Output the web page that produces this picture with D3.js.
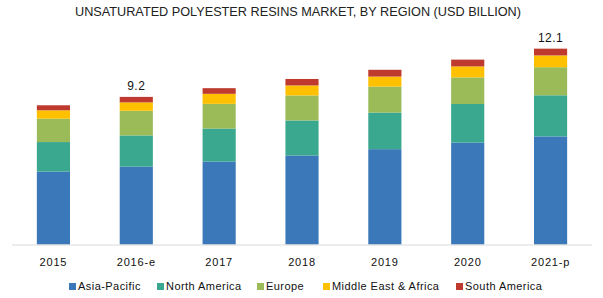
<!DOCTYPE html>
<html>
<head>
<meta charset="UTF-8">
<script src="https://d3js.org/d3.v7.min.js"></script>
<style>
    body { margin: 0; background: #fff; font-family: "Liberation Sans", Arial, sans-serif; }
    .title { font-size: 12.7px; fill: #222; }
    .tick text { font-size: 11px; fill: #111; letter-spacing: 0.8px; }
    .total { font-size: 12px; fill: #111; letter-spacing: 0.5px; }
    .legend text { font-size: 11px; fill: #111; letter-spacing: 0.45px; }
</style>
</head>
<body>
<svg id="chart"></svg>
<script>
const years = ["2015", "2016-e", "2017", "2018", "2019", "2020", "2021-p"];
const regions = ["Asia-Pacific", "North America", "Europe", "Middle East & Africa", "South America"];
const colors = ["#3b78b9", "#3aa78f", "#9bbb59", "#ffc000", "#be3a2f"];

const asiaPacific   = [4.52, 4.83, 5.14, 5.52, 5.91, 6.32, 6.70];
const northAmerica  = [1.83, 1.93, 2.05, 2.17, 2.27, 2.39, 2.55];
const europe        = [1.45, 1.53, 1.53, 1.55, 1.61, 1.65, 1.74];
const middleEast    = [0.52, 0.52, 0.62, 0.62, 0.62, 0.68, 0.73];
const southAmerica  = [0.31, 0.34, 0.35, 0.40, 0.42, 0.42, 0.42];

// labels shown above some bars
const totalLabels = {"2016-e": "9.2", "2021-p": "12.1"};

const W = 603, H = 298;
const svg = d3.select("#chart").attr("width", W).attr("height", H);

const series = [asiaPacific, northAmerica, europe, middleEast, southAmerica];
const data = years.map((y, i) => {
    const row = {year: y};
    regions.forEach((r, k) => row[r] = series[k][i]);
    return row;
});
const stacked = d3.stack().keys(regions)(data);

const x = d3.scaleBand().domain(years).range([12, 592]).paddingInner(0.6).paddingOuter(0.3);
const y = d3.scaleLinear().domain([0, 12.1]).range([244.5, 49.3]);
const color = d3.scaleOrdinal().domain(regions).range(colors);

svg.append("text").attr("class", "title")
    .attr("x", 298).attr("y", 15.5).attr("text-anchor", "middle")
    .text("UNSATURATED POLYESTER RESINS MARKET, BY REGION (USD BILLION)");

svg.append("g").selectAll("g")
    .data(stacked).join("g")
    .attr("fill", d => color(d.key))
    .selectAll("rect")
    .data(d => d).join("rect")
    .attr("x", d => x(d.data.year))
    .attr("y", d => y(d[1]))
    .attr("width", x.bandwidth())
    .attr("height", d => y(d[0]) - y(d[1]));

const xAxis = svg.append("g")
    .attr("transform", "translate(0,245)")
    .call(d3.axisBottom(x).tickSize(0).tickPadding(13));
xAxis.select(".domain").attr("stroke", "#d9d9d9").attr("d", "M12,0H592");

const topLayer = stacked[stacked.length - 1];
svg.selectAll(".total")
    .data(topLayer.filter(d => totalLabels[d.data.year])).join("text")
    .attr("class", "total")
    .attr("x", d => x(d.data.year) + x.bandwidth() / 2)
    .attr("y", d => y(d[1]) - 7)
    .attr("text-anchor", "middle")
    .text(d => totalLabels[d.data.year]);

const legendX = [69, 157, 257, 323, 456];
const legend = svg.append("g").attr("class", "legend")
    .selectAll("g").data(regions).join("g")
    .attr("transform", (d, i) => `translate(${legendX[i]},289)`);
legend.append("rect").attr("x", 0).attr("y", -6).attr("width", 7).attr("height", 7)
    .attr("fill", d => color(d));
legend.append("text").attr("x", 9).attr("y", 1).text(d => d);
</script>
</body>
</html>
